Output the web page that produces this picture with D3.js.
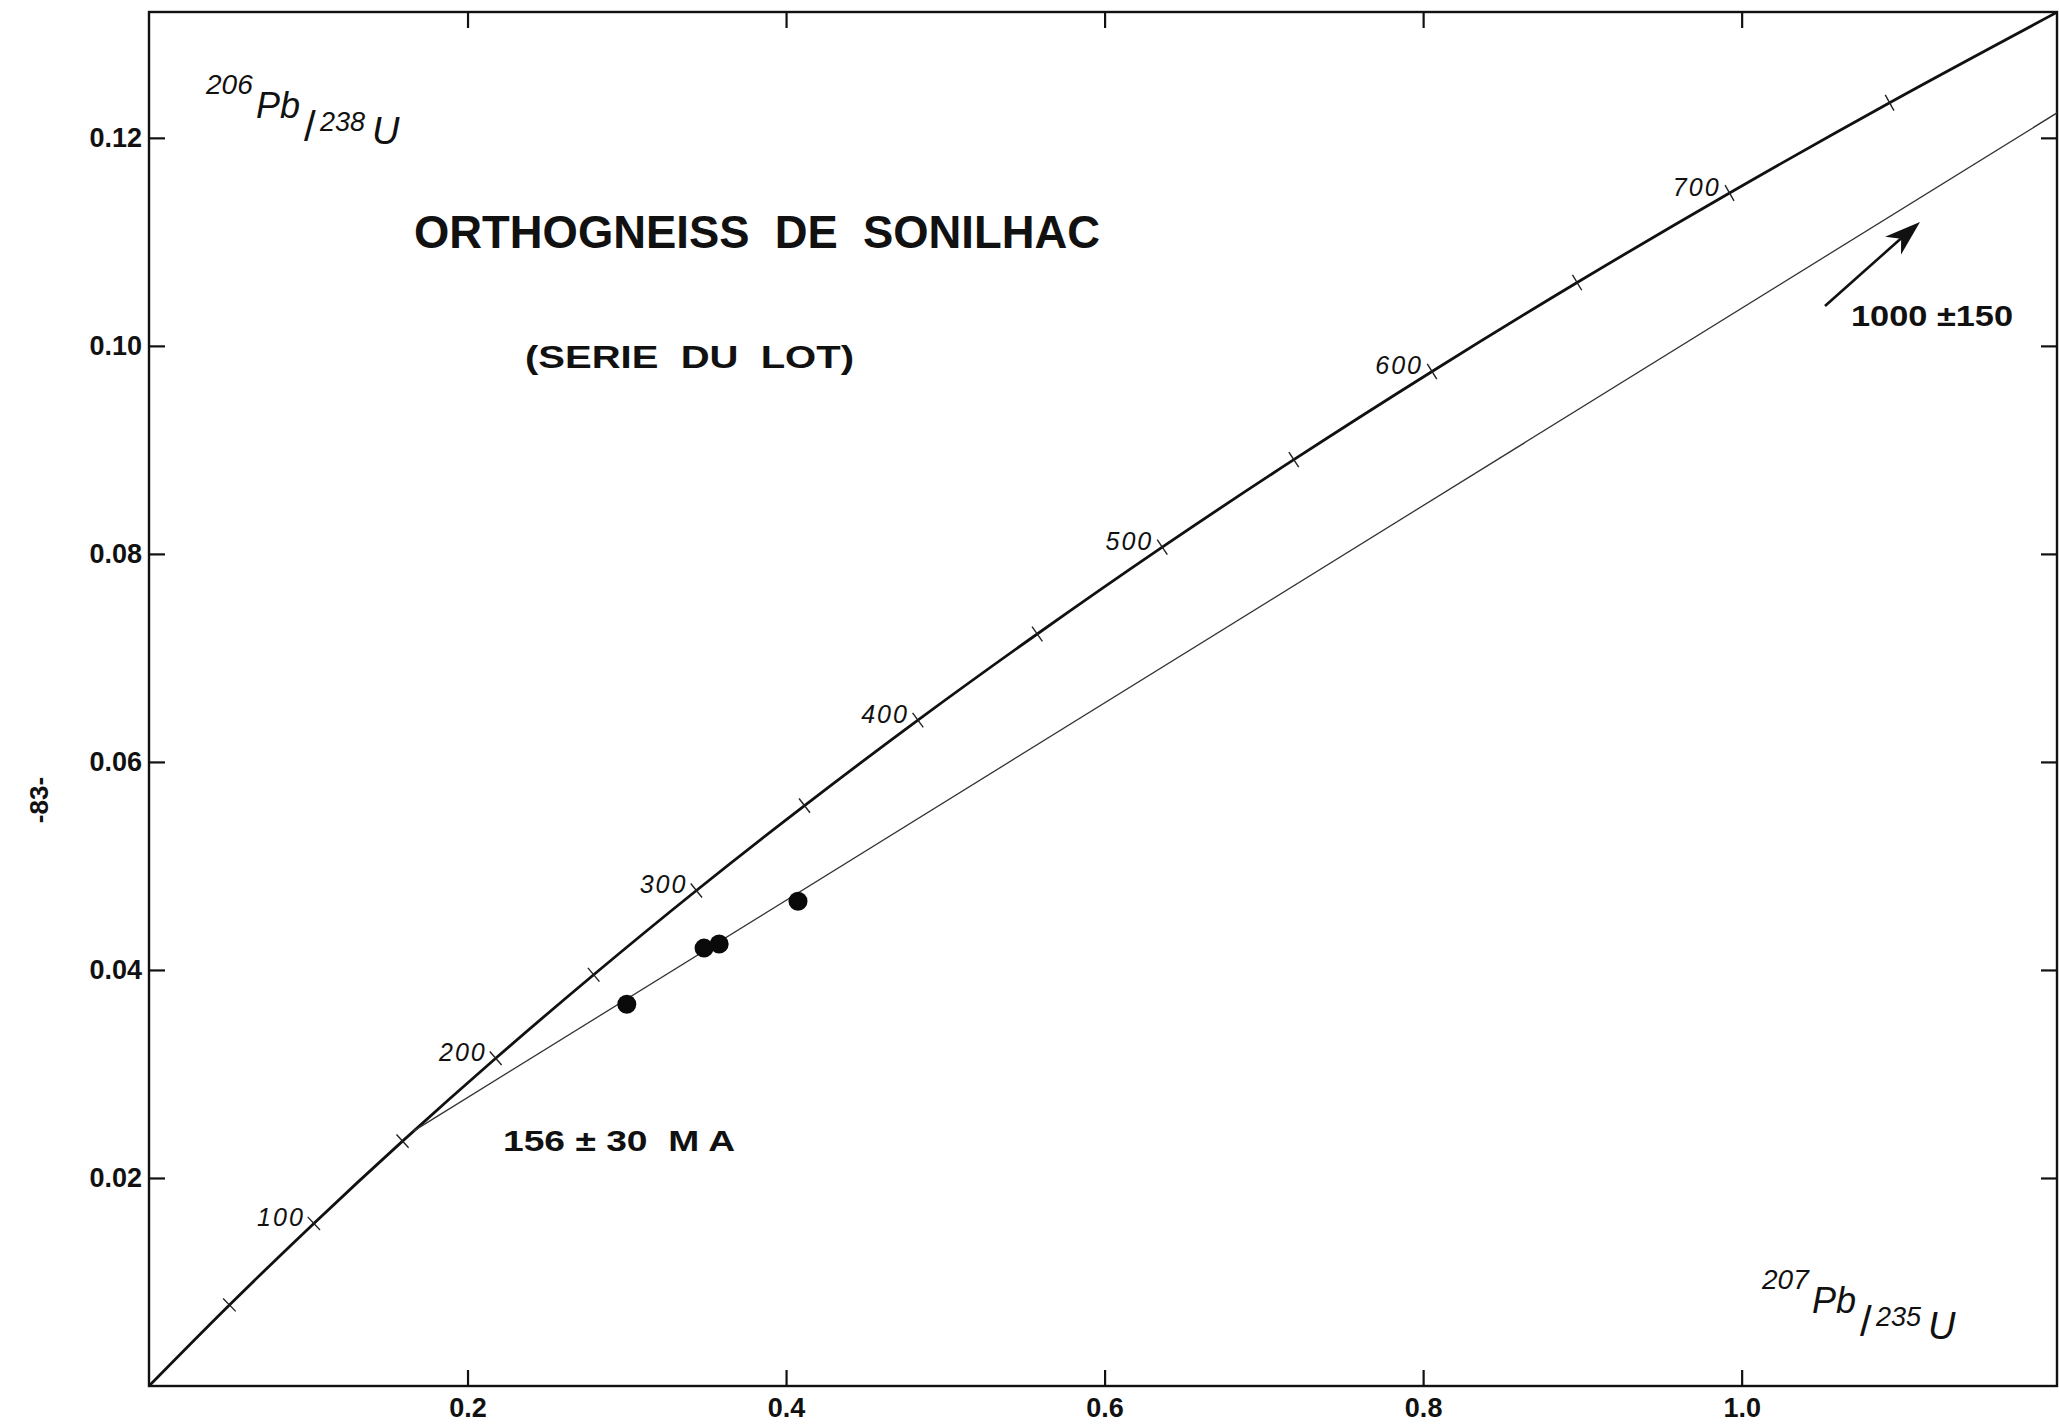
<!DOCTYPE html>
<html>
<head>
<meta charset="utf-8">
<script src="https://cdn.jsdelivr.net/npm/d3@7/dist/d3.min.js"></script>
<style>
  html, body { margin: 0; padding: 0; background: #fff; }
  svg { display: block; }
  text { fill: #111; }
</style>
</head>
<body>
<svg id="chart" width="2059" height="1424"></svg>
<script>
// ---- data ----
const xTicks = [0.2, 0.4, 0.6, 0.8, 1.0];
const yTicks = [0.02, 0.04, 0.06, 0.08, 0.10, 0.12];

// concordia points (age in Ma, 207Pb/235U, 206Pb/238U)
const concordiaAge = [0, 50, 100, 150, 200, 250, 300, 350, 400, 450, 500, 550, 600, 650, 700, 750, 800];
const concordiaX = [0, 0.0505, 0.1035, 0.1592, 0.2177, 0.2792, 0.3437, 0.4116, 0.4828, 0.5577, 0.6362, 0.7188, 0.8056, 0.8967, 0.9924, 1.0929, 1.1987];
const concordiaY = [0, 0.00779, 0.01563, 0.02354, 0.03151, 0.03954, 0.04764, 0.05580, 0.06402, 0.07230, 0.08065, 0.08906, 0.09754, 0.10609, 0.11470, 0.12338, 0.13213];
const tickAges = [50, 100, 150, 200, 250, 300, 350, 400, 450, 500, 550, 600, 650, 700, 750];
const labelAges = [100, 200, 300, 400, 500, 600, 700];

// samples
const sampleX = [0.300, 0.3485, 0.358, 0.4075];
const sampleY = [0.0367, 0.0421, 0.0425, 0.0466];

// discordia (lower intercept 156 Ma -> toward upper intercept 1000 Ma)
const discordiaX = [0.166, 1.198];
const discordiaY = [0.0245, 0.1224];

const titleText = "ORTHOGNEISS  DE  SONILHAC";
const subtitleText = "(SERIE  DU  LOT)";
const lowerAgeText = "156 ± 30  M A";
const upperAgeText = "1000 ±150";
const pageText = "-83-";

// ---- layout ----
const svg = d3.select("#chart");
const L = 149, R = 2057, T = 12, B = 1386;
const x = d3.scaleLinear().domain([0, 1.198]).range([L, R]);
const y = d3.scaleLinear().domain([0, 0.1321]).range([B, T]);

const tickFont = "'Liberation Sans Narrow', 'Liberation Sans', Arial, sans-serif";
const plainFont = "'Liberation Sans', Arial, sans-serif";

// clip
svg.append("defs").append("clipPath").attr("id", "plot")
  .append("rect").attr("x", L).attr("y", T).attr("width", R - L).attr("height", B - T);

// axes with inward ticks
const gB = svg.append("g").attr("transform", `translate(0,${B})`)
  .call(d3.axisBottom(x).tickValues(xTicks).tickFormat(d3.format(".1f")).tickSizeInner(-16).tickSizeOuter(0).tickPadding(12));
const gT = svg.append("g").attr("transform", `translate(0,${T})`)
  .call(d3.axisTop(x).tickValues(xTicks).tickFormat("").tickSizeInner(-16).tickSizeOuter(0));
const gL = svg.append("g").attr("transform", `translate(${L},0)`)
  .call(d3.axisLeft(y).tickValues(yTicks).tickFormat(d3.format(".2f")).tickSizeInner(-16).tickSizeOuter(0).tickPadding(7));
const gR = svg.append("g").attr("transform", `translate(${R},0)`)
  .call(d3.axisRight(y).tickValues(yTicks).tickFormat("").tickSizeInner(-16).tickSizeOuter(0));
[gB, gT, gL, gR].forEach(g => {
  g.select(".domain").remove();
  g.selectAll(".tick line").attr("stroke", "#111").attr("stroke-width", 2.2);
  g.selectAll("text").attr("font-family", plainFont).attr("font-weight", "bold")
    .attr("font-size", 27).attr("fill", "#111");
});

// frame
svg.append("rect").attr("x", L).attr("y", T).attr("width", R - L).attr("height", B - T)
  .attr("fill", "none").attr("stroke", "#111").attr("stroke-width", 2.4);

const plot = svg.append("g").attr("clip-path", "url(#plot)");

// concordia
const conc = concordiaAge.map((a, i) => ({ a, x: concordiaX[i], y: concordiaY[i] }));
plot.append("path").datum(conc)
  .attr("d", d3.line().x(d => x(d.x)).y(d => y(d.y)).curve(d3.curveCatmullRom))
  .attr("fill", "none").attr("stroke", "#111").attr("stroke-width", 2.8);

// discordia
const disc = discordiaX.map((v, i) => ({ x: v, y: discordiaY[i] }));
plot.append("path").datum(disc)
  .attr("d", d3.line().x(d => x(d.x)).y(d => y(d.y)))
  .attr("fill", "none").attr("stroke", "#333").attr("stroke-width", 1.3);

// age ticks (perpendicular dashes)
const byAge = new Map(conc.map(d => [d.a, d]));
tickAges.forEach(a => {
  const i = concordiaAge.indexOf(a);
  const p0 = conc[i - 1], p1 = conc[i + 1];
  const dx = x(p1.x) - x(p0.x), dy = y(p1.y) - y(p0.y);
  const len = Math.hypot(dx, dy);
  const nx = -dy / len, ny = dx / len;
  const cx = x(conc[i].x), cy = y(conc[i].y);
  const h = 9;
  svg.append("line")
    .attr("x1", cx - nx * h).attr("y1", cy - ny * h)
    .attr("x2", cx + nx * h).attr("y2", cy + ny * h)
    .attr("stroke", "#222").attr("stroke-width", 1.4);
});

// age labels
svg.append("g").selectAll("text").data(labelAges).join("text")
  .attr("x", a => x(byAge.get(a).x) - 9)
  .attr("y", a => y(byAge.get(a).y) + 3)
  .attr("text-anchor", "end")
  .attr("font-family", plainFont).attr("font-style", "italic")
  .attr("font-size", 25).attr("letter-spacing", 2).attr("fill", "#222")
  .text(a => a);

// samples
plot.append("g").selectAll("circle").data(sampleX.map((v, i) => ({ x: v, y: sampleY[i] }))).join("circle")
  .attr("cx", d => x(d.x)).attr("cy", d => y(d.y)).attr("r", 9.5).attr("fill", "#0a0a0a");

// titles
svg.append("text").attr("x", 414).attr("y", 248)
  .attr("font-family", tickFont).attr("font-weight", "bold").attr("font-size", 47)
  .attr("textLength", 686).attr("lengthAdjust", "spacingAndGlyphs")
  .style("white-space", "pre")
  .text(titleText);
svg.append("text").attr("x", 525).attr("y", 368)
  .attr("font-family", tickFont).attr("font-weight", "bold").attr("font-size", 31)
  .attr("textLength", 329).attr("lengthAdjust", "spacingAndGlyphs")
  .style("white-space", "pre")
  .text(subtitleText);
svg.append("text").attr("x", 503).attr("y", 1151)
  .attr("font-family", plainFont).attr("font-weight", "bold").attr("font-size", 29)
  .attr("textLength", 232).attr("lengthAdjust", "spacingAndGlyphs")
  .style("white-space", "pre")
  .text(lowerAgeText);
svg.append("text").attr("x", 1851).attr("y", 326)
  .attr("font-family", plainFont).attr("font-weight", "bold").attr("font-size", 29)
  .attr("textLength", 162).attr("lengthAdjust", "spacingAndGlyphs")
  .style("white-space", "pre")
  .text(upperAgeText);

// arrow toward the upper intercept
const ax0 = 1825, ay0 = 306, ax1 = 1920, ay1 = 222;
svg.append("line").attr("x1", ax0).attr("y1", ay0).attr("x2", ax1 - 14).attr("y2", ay1 + 12)
  .attr("stroke", "#111").attr("stroke-width", 2.6);
{
  const ang = Math.atan2(ay1 - ay0, ax1 - ax0);
  const hl = 36, hw = 12;
  const bx = ax1 - hl * Math.cos(ang), by = ay1 - hl * Math.sin(ang);
  const mx = ax1 - hl * 0.7 * Math.cos(ang), my = ay1 - hl * 0.7 * Math.sin(ang);
  const px = -Math.sin(ang), py = Math.cos(ang);
  svg.append("path")
    .attr("d", `M${ax1},${ay1} L${bx + px * hw},${by + py * hw} L${mx},${my} L${bx - px * hw},${by - py * hw} Z`)
    .attr("fill", "#111");
}

// axis titles (isotope ratios)
function ratioLabel(x0, y0, m1, el1, m2, el2) {
  const g = svg.append("g").attr("font-family", plainFont).attr("font-style", "italic").attr("fill", "#111");
  g.append("text").attr("x", x0).attr("y", y0).attr("font-size", 28).text(m1);
  g.append("text").attr("x", x0 + 50).attr("y", y0 + 24).attr("font-size", 36).text(el1);
  g.append("text").attr("x", x0 + 98).attr("y", y0 + 47).attr("font-size", 42).attr("font-style", "normal").text("/");
  g.append("text").attr("x", x0 + 114).attr("y", y0 + 37).attr("font-size", 27).text(m2);
  g.append("text").attr("x", x0 + 166).attr("y", y0 + 50).attr("font-size", 38).text(el2);
}
ratioLabel(206, 94, "206", "Pb", "238", "U");
ratioLabel(1762, 1289, "207", "Pb", "235", "U");

// page number
svg.append("text").attr("transform", "translate(48,800) rotate(-90)")
  .attr("text-anchor", "middle").attr("font-family", plainFont).attr("font-weight", "bold")
  .attr("font-size", 26).text(pageText);
</script>
</body>
</html>
